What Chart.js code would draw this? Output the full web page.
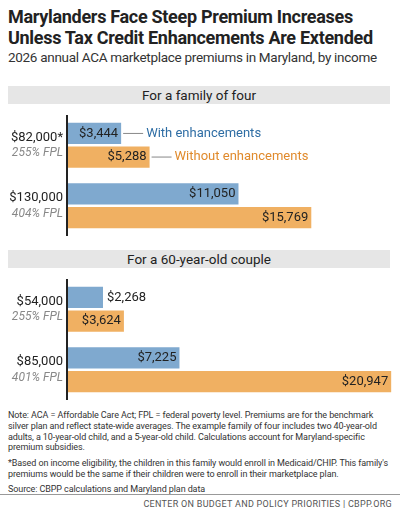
<!DOCTYPE html><html><head><meta charset="utf-8">
<script src="https://cdn.jsdelivr.net/npm/chart.js@4"></script>
<style>
body{margin:0;width:400px;height:511px;position:relative;font-family:Roboto,sans-serif;color:#222;background:#fff;overflow:hidden}
.t{position:absolute;left:8px;top:6px;font-size:18px;font-weight:bold;line-height:21px;letter-spacing:-0.3px}
.s{position:absolute;left:8px;top:49px;font-size:13.5px;color:#333;letter-spacing:-0.3px;white-space:nowrap}
.band{position:absolute;left:8px;width:382px;height:18px;background:#e6e6e6;text-align:center;font-size:13.5px;line-height:18px}
canvas{position:absolute;left:0}
.n{position:absolute;left:8px;top:410px;width:386px;font-size:9px;line-height:10.8px;color:#333;letter-spacing:-0.1px}
.f{position:absolute;left:0;top:494px;width:400px;border-top:1px solid #999;text-align:right;font-size:9px;color:#555;padding-top:4px;letter-spacing:0.3px}
.f span{margin-right:8px}
</style></head><body>
<div class="t">Marylanders Face Steep Premium Increases<br>Unless Tax Credit Enhancements Are Extended</div>
<div class="s">2026 annual ACA marketplace premiums in Maryland, by income</div>
<div class="band" style="top:86px">For a family of four</div>
<div class="band" style="top:250px">For a 60-year-old couple</div>
<div style="position:absolute;left:0;top:112px;width:400px;height:128px"><canvas id="c1"></canvas></div>
<div style="position:absolute;left:0;top:276px;width:400px;height:128px"><canvas id="c2"></canvas></div>
<div class="n">Note: ACA = Affordable Care Act; FPL = federal poverty level. Premiums are for the benchmark silver plan and reflect state-wide averages. The example family of four includes two 40-year-old adults, a 10-year-old child, and a 5-year-old child. Calculations account for Maryland-specific premium subsidies.<div style="height:5px"></div>*Based on income eligibility, the children in this family would enroll in Medicaid/CHIP. This family's premiums would be the same if their children were to enroll in their marketplace plan.<div style="height:4px"></div>Source: CBPP calculations and Maryland plan data</div>
<div class="f"><span>CENTER ON BUDGET AND POLICY PRIORITIES | CBPP.ORG</span></div>
<script>
const seriesNames=["With enhancements","Without enhancements"];
const famIncome=["$82,000*","$130,000"];
const famFPL=["255% FPL","404% FPL"];
const famWith=[3444,11050];
const famWithout=[5288,15769];
const coupleIncome=["$54,000","$85,000"];
const coupleFPL=["255% FPL","401% FPL"];
const coupleWith=[2268,7225];
const coupleWithout=[3624,20947];
const colors=["#7fa9cf","#f0b062"];
const textColors=["#2e6da4","#e08a2c"];
function make(id,inc,fpl,a,b,legend){
  const plug={id:'p',afterDatasetsDraw(ch){
    const c=ch.ctx,ar=ch.chartArea;
    c.save();c.strokeStyle='#222';c.lineWidth=2;c.beginPath();c.moveTo(ar.left-1,ar.top);c.lineTo(ar.left-1,ar.bottom);c.stroke();
    ch.data.datasets.forEach((ds,di)=>{ch.getDatasetMeta(di).data.forEach((bar,i)=>{
      const v=ds.data[i],txt='$'+v.toLocaleString('en-US');
      c.font='13px Roboto';c.fillStyle='#222';c.textBaseline='middle';
      const w=c.measureText(txt).width;let endx;
      if(bar.x-ar.left>w+8){c.textAlign='right';c.fillText(txt,bar.x-3,bar.y);endx=bar.x;}
      else{c.textAlign='left';c.fillText(txt,bar.x+4,bar.y);endx=bar.x+w+8;}
      if(legend&&i===0){c.strokeStyle='#888';c.lineWidth=1;c.beginPath();c.moveTo(endx+2,bar.y);c.lineTo(endx+22,bar.y);c.stroke();
        c.fillStyle=textColors[di];c.textAlign='left';c.fillText(seriesNames[di],endx+25,bar.y);}
    });});
    const m=ch.getDatasetMeta(0).data,m2=ch.getDatasetMeta(1).data;
    for(let i=0;i<inc.length;i++){const y=(m[i].y+m2[i].y)/2;c.textAlign='right';c.textBaseline='middle';
      c.fillStyle='#222';c.font='13px Roboto';c.fillText(inc[i],ar.left-5,y-8);
      c.fillStyle='#888';c.font='italic 12px Roboto';c.fillText(fpl[i],ar.left-5,y+8);}
    c.restore();}};
  new Chart(document.getElementById(id),{type:'bar',data:{labels:inc,datasets:[
    {label:seriesNames[0],data:a,backgroundColor:colors[0]},{label:seriesNames[1],data:b,backgroundColor:colors[1]}]},
    options:{indexAxis:'y',responsive:true,maintainAspectRatio:false,animation:false,
      layout:{padding:{left:68,right:8,top:3,bottom:4}},
      categoryPercentage:0.78,barPercentage:0.9,
      plugins:{legend:{display:false},tooltip:{enabled:false}},
      scales:{x:{display:false,min:0,max:21000},y:{display:false}}},plugins:[plug]});
}
make('c1',famIncome,famFPL,famWith,famWithout,true);
make('c2',coupleIncome,coupleFPL,coupleWith,coupleWithout,false);
</script></body></html>
